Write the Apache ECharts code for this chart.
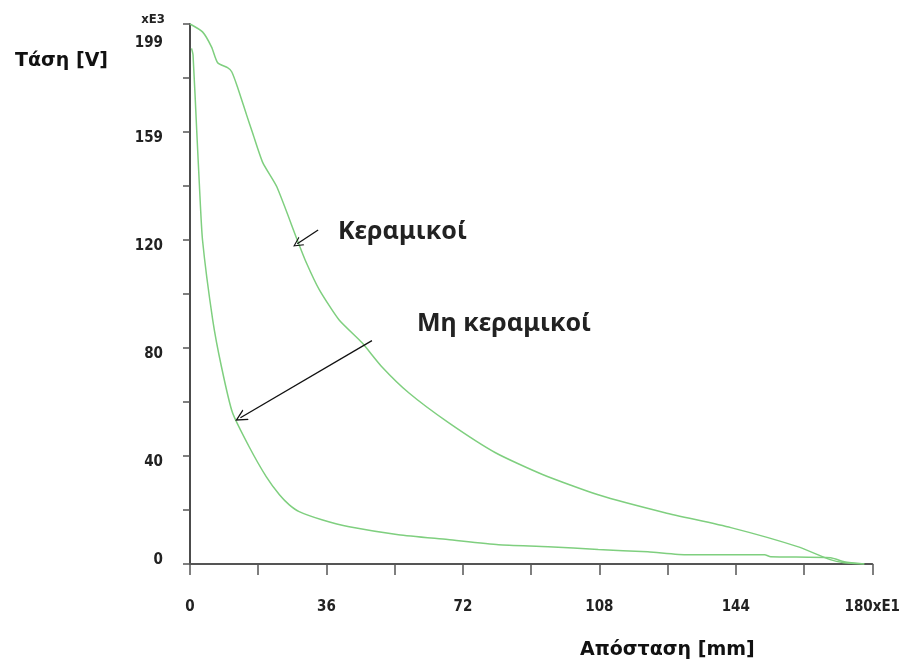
<!DOCTYPE html>
<html><head><meta charset="utf-8">
<script src="https://cdn.jsdelivr.net/npm/echarts@6/dist/echarts.min.js"></script>
<style>html,body{margin:0;padding:0;background:#fff}#c{width:903px;height:666px}</style>
</head><body><div id="c"></div>
<script>
// Κεραμικοί (upper curve)
const ceramicX = [0, 3.3, 5.7, 7.3, 9.9, 11.0, 12.5, 14.9, 16.5, 19.2, 22.9, 28.3, 30.7, 34.1, 39.3, 45.4, 50.6, 57.7, 68.2, 80.6, 93.0, 107.7, 125.3, 142.7, 160.3, 168.9, 172.6, 177.9];
const ceramicY = [199, 196.1, 190.5, 184.7, 182.9, 181.4, 175.9, 165.6, 158.9, 147.9, 139, 119.4, 111, 101.1, 90, 81.5, 72.7, 63.1, 52.1, 41, 33, 25.5, 18.9, 13.4, 6.4, 1.6, 0.5, 0];
// Μη κεραμικοί (lower curve)
const nonX = [0.4, 0.8, 1.8, 2.5, 3.3, 6.0, 8.3, 11.2, 15.6, 20.1, 23.6, 26.2, 28.8, 35, 42, 55, 68, 81.4, 94.5, 107.7, 120.8, 131.3, 151.6, 153.2, 169, 172.6, 177.9];
const nonY = [190, 187.6, 158.9, 139, 119.4, 89.9, 72.7, 55.8, 43.2, 32.2, 25.5, 21.8, 19.3, 16.2, 13.7, 10.8, 9, 7.1, 6.4, 5.3, 4.5, 3.4, 3.4, 2.7, 2.3, 0.8, 0];
// tick labels
const yTickLabels = ["0", "40", "80", "120", "159", "199"];
const xTickLabels = ["0", "36", "72", "108", "144", "180xE1"];
// annotation arrows (data coords: tail -> tip)
const arrowCeramic = [[33.8, 123.1], [28.3, 118.0]];
const arrowNon = [[48.0, 82.3], [13.3, 53.9]];

const zip = (xs, ys) => xs.map((x, i) => [x, ys[i]]);
const chevron = 'path://M0,10 L5,0 L10,10 L8.8,10 L5,2.4 L1.2,10 Z';
const tickFont = "'Liberation Sans Narrow','DejaVu Sans Condensed','Arial Narrow',sans-serif";
const green = '#7fcf7f';

const chart = echarts.init(document.getElementById('c'), null, {renderer: 'canvas'});
chart.setOption({
  animation: false,
  backgroundColor: '#fff',
  grid: {left: 190, top: 24, right: 28, bottom: 102, containLabel: false},
  xAxis: {
    type: 'value', min: 0, max: 180, interval: 18,
    axisLine: {show: true, onZero: false, lineStyle: {color: '#555', width: 2}},
    axisTick: {show: true, inside: false, length: 11, lineStyle: {color: '#555', width: 1.5}},
    splitLine: {show: false},
    axisLabel: {
      margin: 36, color: '#222', fontFamily: tickFont, fontWeight: 'bold', fontSize: 15,
      formatter: v => { const k = Math.round(v / 18); return k % 2 === 0 ? xTickLabels[k / 2] : ''; }
    }
  },
  yAxis: {
    type: 'value', min: 0, max: 199, interval: 19.9,
    name: 'xE3', nameLocation: 'end', nameGap: 4,
    nameTextStyle: {color: '#222', fontFamily: tickFont, fontWeight: 'bold', fontSize: 13, align: 'right', verticalAlign: 'middle', padding: [0, 25, 0, 0]},
    axisLine: {show: true, onZero: false, lineStyle: {color: '#111', width: 1.5}},
    axisTick: {show: true, length: 7, lineStyle: {color: '#555', width: 1.5}},
    splitLine: {show: false},
    axisLabel: {
      margin: 27, color: '#222', fontFamily: tickFont, fontWeight: 'bold', fontSize: 15,
      formatter: v => {
        const k = Math.round(v / 19.9);
        if (k % 2 !== 0) return '';
        const t = yTickLabels[k / 2];
        if (k === 10) return '{top|' + t + '}';
        if (k === 0) return '{zero|' + t + '}';
        return '{mid|' + t + '}';
      },
      rich: {
        top: {padding: [38, 0, 0, 0], fontFamily: tickFont, fontWeight: 'bold', fontSize: 15, color: '#222'},
        mid: {padding: [13, 0, 0, 0], fontFamily: tickFont, fontWeight: 'bold', fontSize: 15, color: '#222'},
        zero: {padding: [0, 0, 8, 0], fontFamily: tickFont, fontWeight: 'bold', fontSize: 15, color: '#222'}
      }
    }
  },
  series: [
    {
      name: 'Κεραμικοί', type: 'line', data: zip(ceramicX, ceramicY), showSymbol: false,
      lineStyle: {color: green, width: 1.5}, smooth: 0.2,
      markLine: {
        silent: true, symbol: ['none', chevron], symbolSize: [10, 10],
        label: {show: false}, lineStyle: {color: '#111', width: 1.3, type: 'solid'},
        data: [[{coord: arrowCeramic[0]}, {coord: arrowCeramic[1]}]]
      }
    },
    {
      name: 'Μη κεραμικοί', type: 'line', data: zip(nonX, nonY), showSymbol: false,
      lineStyle: {color: green, width: 1.5}, smooth: 0.2,
      markLine: {
        silent: true, symbol: ['none', chevron], symbolSize: [12, 12],
        label: {show: false}, lineStyle: {color: '#111', width: 1.3, type: 'solid'},
        data: [[{coord: arrowNon[0]}, {coord: arrowNon[1]}]]
      }
    }
  ],
  graphic: [
    {type: 'text', left: 15, top: 52, style: {text: 'Τάση [V]', font: "bold 19px 'DejaVu Sans', sans-serif", fill: '#111'}},
    {type: 'text', left: 580, top: 641, style: {text: 'Απόσταση [mm]', font: "bold 19px 'DejaVu Sans', sans-serif", fill: '#111'}},
    {type: 'text', left: 338, top: 219, style: {text: 'Κεραμικοί', font: "bold 25px 'Noto Sans', 'Open Sans', sans-serif", fill: '#222'}},
    {type: 'text', left: 417, top: 311, style: {text: 'Μη κεραμικοί', font: "bold 25px 'Noto Sans', 'Open Sans', sans-serif", fill: '#222'}}
  ]
});
</script></body></html>
